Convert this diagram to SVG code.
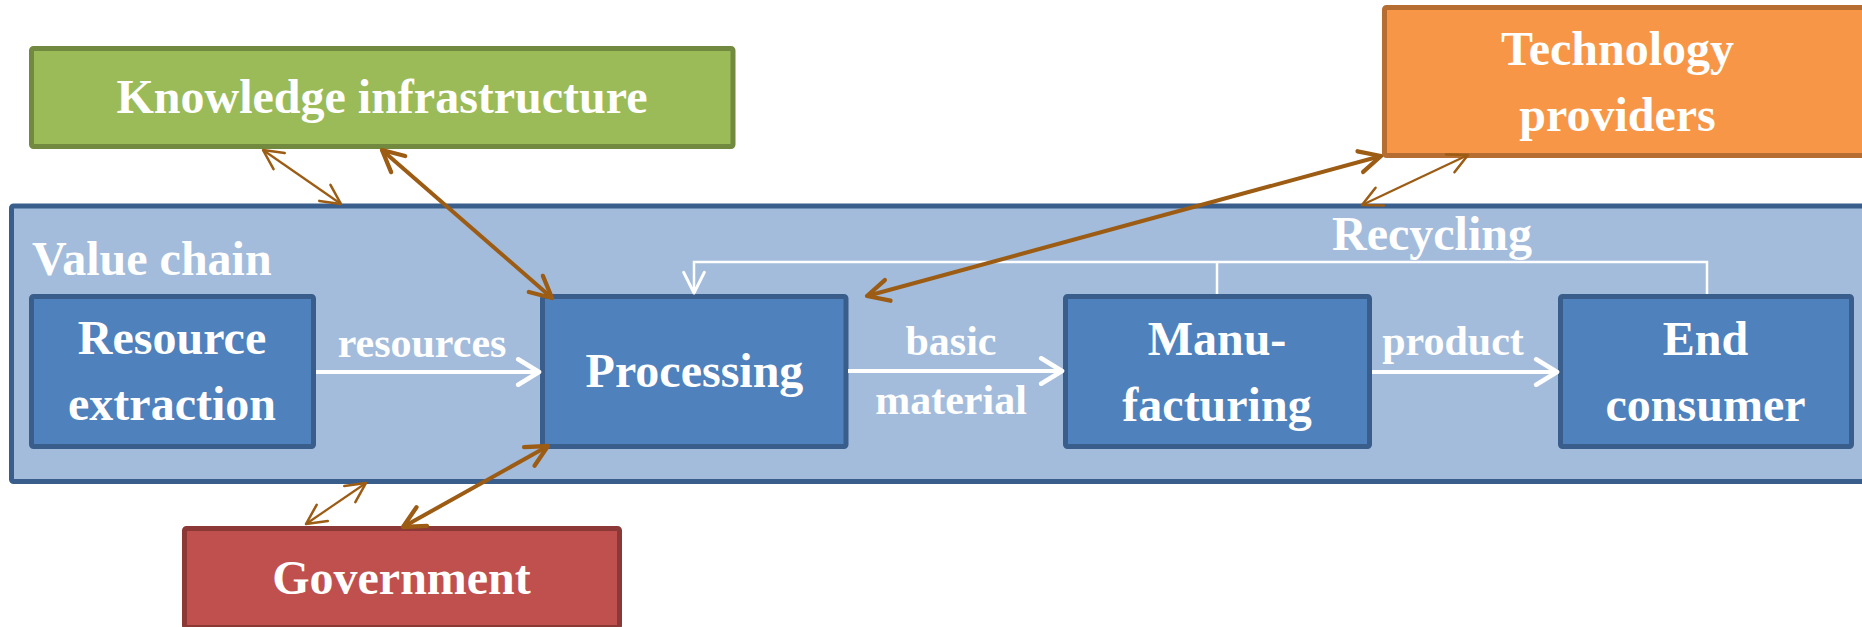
<svg xmlns="http://www.w3.org/2000/svg" width="1862" height="627" viewBox="0 0 1862 627">
<style>
text{font-family:"Liberation Serif","Times New Roman",serif;font-weight:bold;fill:#ffffff;}
.big{font-size:48px;}
.lbl{font-size:42px;}
.c{text-anchor:middle;}
.inner{fill:#4f81bd;stroke:#3a5e8c;stroke-width:5;}
.flow{stroke:#ffffff;stroke-width:4;fill:none;}
.rec{stroke:#ffffff;stroke-width:2.5;fill:none;}
.bthick{stroke:#9c5c14;stroke-width:4;fill:none;}
.bthin{stroke:#9c5c14;stroke-width:2.2;fill:none;}
</style>
<defs>
<marker id="wh" markerUnits="userSpaceOnUse" markerWidth="30" markerHeight="30" viewBox="-22 -13 26 26" refX="0" refY="0" orient="auto">
<path d="M-18,-11 L0,0 L-18,11" fill="none" stroke="#ffffff" stroke-width="4" stroke-linecap="round" stroke-linejoin="round"/>
</marker>
<marker id="whs" markerUnits="userSpaceOnUse" markerWidth="30" markerHeight="30" viewBox="-22 -13 26 26" refX="0" refY="0" orient="auto">
<path d="M-18,-9 L0,0 L-18,9" fill="none" stroke="#ffffff" stroke-width="2.5" stroke-linecap="round" stroke-linejoin="round"/>
</marker>
<marker id="bk" markerUnits="userSpaceOnUse" markerWidth="30" markerHeight="30" viewBox="-24 -14 28 28" refX="0" refY="0" orient="auto-start-reverse">
<path d="M-20,-10 L0,0 L-20,10" fill="none" stroke="#9c5c14" stroke-width="4" stroke-linecap="round" stroke-linejoin="round"/>
</marker>
<marker id="bn" markerUnits="userSpaceOnUse" markerWidth="30" markerHeight="30" viewBox="-22 -12 26 24" refX="0" refY="0" orient="auto-start-reverse">
<path d="M-17,-8.5 L0,0 L-17,8.5" fill="none" stroke="#9c5c14" stroke-width="2.2" stroke-linecap="round" stroke-linejoin="round"/>
</marker>
</defs>
<rect width="1862" height="627" fill="#ffffff"/>

<g id="value-chain">
<rect x="11.5" y="206" width="1870" height="275.5" rx="2" fill="#a3bcdc" stroke="#3a5e8c" stroke-width="5"/>
<text class="big" x="32" y="275">Value chain</text>
</g>

<g id="knowledge-infrastructure">
<rect x="31.5" y="48.5" width="701.5" height="98" rx="2" fill="#9bbb59" stroke="#728a3f" stroke-width="5"/>
<text class="big c" x="382" y="113">Knowledge infrastructure</text>
</g>

<g id="technology-providers">
<rect x="1384.5" y="7.5" width="1467" height="148" rx="2" fill="#f79646" stroke="#b66d31" stroke-width="5"/>
<text class="big c" x="1617.5" y="65">Technology</text>
<text class="big c" x="1617.5" y="131">providers</text>
</g>

<g id="government">
<rect x="184.5" y="528.5" width="435" height="99" rx="2" fill="#c0504d" stroke="#8c3836" stroke-width="5"/>
<text class="big c" x="401.5" y="594">Government</text>
</g>

<g id="resource-extraction">
<rect class="inner" x="31.5" y="296.5" width="282" height="150" rx="2"/>
<text class="big c" x="172" y="354">Resource</text>
<text class="big c" x="172" y="420">extraction</text>
</g>

<g id="processing">
<rect class="inner" x="542.5" y="296.5" width="303.5" height="150" rx="2"/>
<text class="big c" x="694.5" y="387">Processing</text>
</g>

<g id="manufacturing">
<rect class="inner" x="1065.5" y="296.5" width="304" height="150" rx="2"/>
<text class="big c" x="1217" y="355">Manu-</text>
<text class="big c" x="1217" y="421">facturing</text>
</g>

<g id="end-consumer">
<rect class="inner" x="1560.5" y="296.5" width="291" height="150" rx="2"/>
<text class="big c" x="1705.5" y="355">End</text>
<text class="big c" x="1705.5" y="421">consumer</text>
</g>

<g id="connectors">
<line class="flow" x1="316" y1="372" x2="539" y2="372" marker-end="url(#wh)"/>
<line class="flow" x1="848" y1="371" x2="1062" y2="371" marker-end="url(#wh)"/>
<line class="flow" x1="1372" y1="372" x2="1557" y2="372" marker-end="url(#wh)"/>
<polyline class="rec" points="1707,294 1707,262 694,262 694,293" marker-end="url(#whs)"/>
<line class="rec" x1="1217" y1="262" x2="1217" y2="294"/>
<line class="bthin" x1="263" y1="150" x2="341" y2="204" marker-start="url(#bn)" marker-end="url(#bn)"/>
<line class="bthick" x1="382" y1="150" x2="552" y2="298" marker-start="url(#bk)" marker-end="url(#bk)"/>
<line class="bthick" x1="1381" y1="156" x2="867" y2="296" marker-start="url(#bk)" marker-end="url(#bk)"/>
<line class="bthin" x1="1468" y1="155" x2="1362" y2="205" marker-start="url(#bn)" marker-end="url(#bn)"/>
<line class="bthin" x1="306" y1="524" x2="366" y2="483" marker-start="url(#bn)" marker-end="url(#bn)"/>
<line class="bthick" x1="403" y1="527" x2="548" y2="446" marker-start="url(#bk)" marker-end="url(#bk)"/>
</g>

<g id="labels">
<text class="lbl c" x="422" y="357">resources</text>
<text class="lbl c" x="951" y="355">basic</text>
<text class="lbl c" x="951" y="414">material</text>
<text class="lbl c" x="1453" y="355">product</text>
<text class="big c" x="1432" y="250">Recycling</text>
</g>
</svg>
